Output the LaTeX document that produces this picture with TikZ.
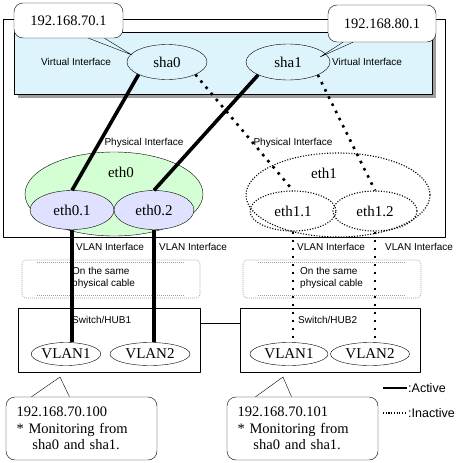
\documentclass[tikz,border=0pt]{standalone}
\usepackage{fontspec}
\setmainfont{Liberation Serif}
\setsansfont{Liberation Sans}
\usetikzlibrary{shapes.geometric}
\begin{document}
\begin{tikzpicture}[x=1pt, y=-1pt, line join=round,
	lbl/.style={font=\sffamily\fontsize{10}{12}\selectfont, inner sep=1pt},
	ifc/.style={ellipse, draw, inner sep=0pt, font=\fontsize{15}{17}\selectfont},
	active/.style={line width=3.6pt},
	inactive/.style={line width=2.6pt, dash pattern=on 2.6pt off 5.4pt},
	thindot/.style={line width=1.1pt, dash pattern=on 1.1pt off 1.6pt},
	bubble/.style={draw, fill=white, rounded corners=9pt, align=left, font=\fontsize{14.5}{16.5}\selectfont}]
	\useasboundingbox (0,0) rectangle (466,463);
	% host and virtual area
	\draw[fill=white] (3,19) rectangle (445,237);
	\fill[gray!75] (18,36) rectangle (436,98);
	\draw[fill=cyan!13] (14,32) rectangle (432,94);
	\node[ifc, fill=cyan!13, minimum width=80pt, minimum height=35pt] (sha0) at (167,62) {sha0};
	\node[ifc, fill=cyan!13, minimum width=84pt, minimum height=36pt] (sha1) at (288,62) {sha1};
	\node[lbl, anchor=west] (virA) at (40,62) {Virtual Interface};
	\node[lbl, anchor=west] (virB) at (331,62) {Virtual Interface};
	% physical interfaces
	\node[ellipse, draw, fill=green!17, minimum width=178pt, minimum height=84pt] (eth0) at (114,194) {};
	\node[ifc, draw=none] (eth0lbl) at (121,172) {eth0};
	\node[ifc, fill=blue!12, minimum width=84pt, minimum height=39pt] (eth01) at (72,210) {eth0.1};
	\node[ifc, fill=blue!12, minimum width=80pt, minimum height=39pt] (eth02) at (154,210) {eth0.2};
	\node[ellipse, draw, thindot, minimum width=184pt, minimum height=84pt] (eth1) at (338,195) {};
	\node[ifc, draw=none] (eth1lbl) at (324,173) {eth1};
	\node[ifc, thindot, minimum width=86pt, minimum height=40pt] (eth11) at (293,211) {eth1.1};
	\node[ifc, thindot, minimum width=84pt, minimum height=40pt] (eth12) at (375,211) {eth1.2};
	\node[lbl] (phyA) at (144,143) {Physical Interface};
	\node[lbl] (phyB) at (293,143) {Physical Interface};
	\draw[active] (sha0.south west) -- (eth01.north);
	\draw[active] (sha1.south west) -- (eth02.north);
	\draw[inactive] (sha0.south east) -- (eth11.north);
	\draw[inactive] (sha1.south east) -- (eth12.north);
	% cables
	\foreach \cx in {22,243}{
		\draw[gray!75, line width=.6pt, dash pattern=on 1pt off 1pt, rounded corners=4pt] (\cx,260) rectangle (\cx+178,298);
		\draw[gray!75, line width=.6pt, dash pattern=on 1pt off 1pt] (\cx+15,262.5) -- (\cx+163,262.5) (\cx+15,295.5) -- (\cx+163,295.5);
	}
	\node[lbl, anchor=west, align=left] (cabA) at (71,278) {On the same\\physical cable};
	\node[lbl, anchor=west, align=left] (cabB) at (299,278) {On the same\\physical cable};
	% switches
	\node[draw, minimum width=182pt, minimum height=64pt] (hubA) at (109,340) {};
	\node[draw, minimum width=180pt, minimum height=64pt] (hubB) at (330,340) {};
	\draw ([yshift=17pt]hubA.east) -- ([yshift=17pt]hubB.west);
	\node[lbl, anchor=west] (hubAlbl) at (71,320) {Switch/HUB1};
	\node[lbl, anchor=west] (hubBlbl) at (297,320) {Switch/HUB2};
	\node[ifc, minimum width=68pt, minimum height=23pt] (vA1) at (66,354) {VLAN1};
	\node[ifc, minimum width=80pt, minimum height=23pt] (vA2) at (150,354) {VLAN2};
	\node[ifc, minimum width=78pt, minimum height=23pt] (vB1) at (289,354) {VLAN1};
	\node[ifc, minimum width=79pt, minimum height=23pt] (vB2) at (370,354) {VLAN2};
	\draw[active] (eth01.south) -- (eth01.south |- vA1.north);
	\draw[active] (eth02.south) -- (eth02.south |- vA2.north);
	\draw[inactive] (eth11.south) -- (eth11.south |- vB1.north);
	\draw[inactive] (eth12.south) -- (eth12.south |- vB2.north);
	\node[lbl, anchor=west] (vifA1) at (75,247) {VLAN Interface};
	\node[lbl, anchor=west] (vifA2) at (158,247) {VLAN Interface};
	\node[lbl, anchor=west] (vifB1) at (296,247) {VLAN Interface};
	\node[lbl, anchor=west] (vifB2) at (384,247) {VLAN Interface};
	% callouts
	\node[bubble, minimum width=109pt, minimum height=35pt] (ipA) at (68.5,20.5) {192.168.70.1};
	\node[bubble, minimum width=108pt, minimum height=37pt] (ipB) at (382,23.5) {192.168.80.1};
	\coordinate (tipA) at (132,55);
	\coordinate (tipB) at (320,57);
	\draw ([xshift=20pt]ipA.south) -- (tipA) -- ([xshift=36pt]ipA.south);
	\draw ([xshift=-39pt]ipB.south) -- (tipB) -- ([xshift=-29pt]ipB.south);
	\node[bubble, text width=130pt, minimum width=151pt, minimum height=63pt] (ipC) at (81.5,428.5) {192.168.70.100\\{*} Monitoring from\\\hspace*{1.1em}sha0 and sha1.};
	\node[bubble, text width=130pt, minimum width=151pt, minimum height=63pt] (ipD) at (302.5,428.5) {192.168.70.101\\{*} Monitoring from\\\hspace*{1.1em}sha0 and sha1.};
	\coordinate (tipC) at (60,377);
	\coordinate (tipD) at (283,377);
	\draw ([xshift=-50pt]ipC.north) -- (tipC) -- ([xshift=-12pt]ipC.north);
	\draw ([xshift=-47pt]ipD.north) -- (tipD) -- ([xshift=-11pt]ipD.north);
	% legend
	\coordinate (legA) at (383,388);
	\coordinate (legB) at (383,413);
	\node[lbl, anchor=west, font=\sffamily\fontsize{12.5}{14}\selectfont] (actA) at (407,388) {:Active};
	\node[lbl, anchor=west, font=\sffamily\fontsize{12.5}{14}\selectfont] (inaA) at (407,413) {:Inactive};
	\draw[line width=2pt] (legA) -- (actA.west);
	\draw[thindot] (legB) -- (inaA.west);
\end{tikzpicture}
\end{document}
